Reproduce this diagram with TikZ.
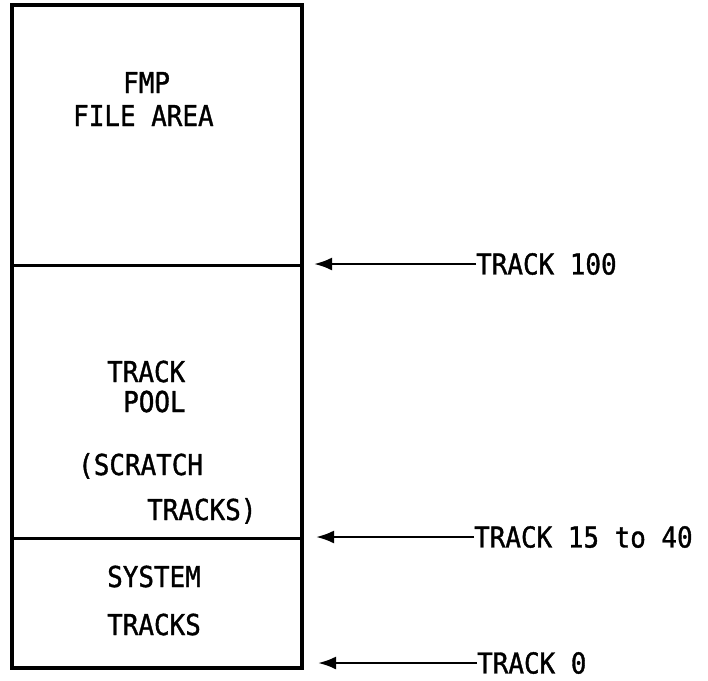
\documentclass[tikz,border=0pt]{standalone}
\usepackage{fontspec}
\setmonofont{DejaVu Sans Mono}[FakeStretch=0.9,FakeBold=1.2]
\usetikzlibrary{arrows.meta}
\begin{document}
\begin{tikzpicture}[x=1pt,y=-1pt,
  lbl/.style={font=\ttfamily\fontsize{28.8}{34}\selectfont, inner sep=0pt, anchor=base west},
  side/.style={font=\ttfamily\fontsize{28.8}{34}\selectfont, inner sep=0pt, anchor=west},
  frame/.style={line width=4pt, line cap=rect, line join=miter},
  divider/.style={line width=3pt},
  pointer/.style={line width=2.6pt, -{Latex[length=18pt,width=13pt]}}]
  \useasboundingbox (0,0) rectangle (708,680);

  % disc layout column
  \coordinate (tl) at (12,5);
  \coordinate (tr) at (302,5);
  \coordinate (br) at (302,668);
  \coordinate (bl) at (12,668);
  \coordinate (d1l) at (12,265);
  \coordinate (d1r) at (302,265);
  \coordinate (d2l) at (12,538);
  \coordinate (d2r) at (302,538);
  \draw[frame] (tl) -- (tr) -- (br) -- (bl) -- cycle;
  \draw[divider] (d1l) -- (d1r);
  \draw[divider] (d2l) -- (d2r);

  % region labels
  \node[lbl] (fmp)   at (123,93)  {FMP};
  \node[lbl] (area)  at (73,126)  {FILE AREA};
  \node[lbl] (track) at (107,382) {TRACK};
  \node[lbl] (pool)  at (123,412) {POOL};
  \node[lbl] (scr)   at (78,475)  {(SCRATCH};
  \node[lbl] (trks)  at (147,520) {TRACKS)};
  \node[lbl] (sys)   at (107,587) {SYSTEM};
  \node[lbl] (systr) at (107,635) {TRACKS};

  % track boundary markers
  \node[side] (t100) at (476,264) {TRACK 100};
  \node[side] (t15)  at (474,537) {TRACK 15 to 40};
  \node[side] (t0)   at (477,663) {TRACK 0};
  \coordinate (p100) at (314,264);
  \coordinate (p15)  at (316,537);
  \coordinate (p0)   at (318,663);
  \draw[pointer] (t100.west) -- (p100);
  \draw[pointer] (t15.west) -- (p15);
  \draw[pointer] (t0.west) -- (p0);
\end{tikzpicture}
\end{document}
